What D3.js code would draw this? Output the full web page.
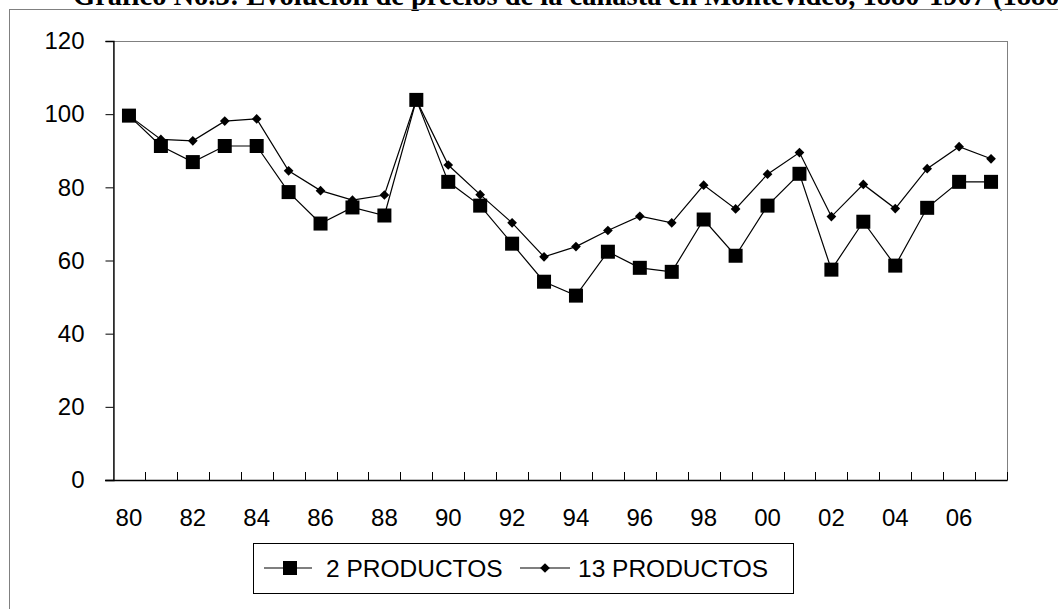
<!DOCTYPE html>
<html>
<head>
<meta charset="utf-8">
<script src="https://cdn.jsdelivr.net/npm/d3@7"></script>
<style>
  html, body { margin: 0; padding: 0; background: #fff; }
  svg { display: block; }
</style>
</head>
<body>
<script>
// Years of the price index series
const years = [1880, 1881, 1882, 1883, 1884, 1885, 1886, 1887, 1888, 1889,
               1890, 1891, 1892, 1893, 1894, 1895, 1896, 1897, 1898, 1899,
               1900, 1901, 1902, 1903, 1904, 1905, 1906, 1907];

// Basket of 2 products
const dosProductos = [99.6, 91.3, 86.9, 91.3, 91.3, 78.7, 70.1, 74.5, 72.3, 103.9,
                      81.5, 75.0, 64.6, 54.2, 50.4, 62.4, 58.0, 56.9, 71.2, 61.3,
                      75.0, 83.7, 57.5, 70.6, 58.6, 74.4, 81.5, 81.5];

// Basket of 13 products
const treceProductos = [99.6, 93.1, 92.7, 98.1, 98.7, 84.5, 79.1, 76.5, 77.9, 103.9,
                        86.1, 78.0, 70.3, 61.0, 63.8, 68.2, 72.1, 70.3, 80.6, 74.1,
                        83.6, 89.5, 72.0, 80.8, 74.2, 85.1, 91.1, 87.8];

// Labelled years on the category axis and their two-digit labels
const labelYears = [1880, 1882, 1884, 1886, 1888, 1890, 1892, 1894, 1896, 1898,
                    1900, 1902, 1904, 1906];
const labelText = ["80", "82", "84", "86", "88", "90", "92", "94", "96", "98",
                   "00", "02", "04", "06"];

const yTicks = [0, 20, 40, 60, 80, 100, 120];

const seriesNames = ["2 PRODUCTOS", "13 PRODUCTOS"];

const titleText = "Gráfico No.3: Evolución de precios de la canasta en Montevideo, 1880-1907 (1880=100)";

const W = 1058, H = 609;
const plot = { left: 113, right: 1007, top: 41, bottom: 480 };
const axisFont = "'Liberation Sans', Arial, sans-serif";

const svg = d3.select("body").append("svg")
  .attr("width", W).attr("height", H);

// Title (runs off the top edge)
svg.append("text")
  .attr("x", 73).attr("y", 5)
  .attr("font-family", "'Liberation Serif', 'Times New Roman', serif")
  .attr("font-weight", "bold")
  .attr("font-size", 28.5)
  .attr("fill", "#000")
  .text(titleText);

// Outer chart frame
svg.append("rect")
  .attr("x", 9.5).attr("y", 9.5)
  .attr("width", W + 20).attr("height", H + 20)
  .attr("fill", "none").attr("stroke", "#808080").attr("stroke-width", 1);

// Scales
const x = d3.scaleBand().domain(years).range([plot.left, plot.right]).padding(0);
const y = d3.scaleLinear().domain([0, 120]).range([plot.bottom, plot.top]);
const cx = d => x(d) + x.bandwidth() / 2;

// Plot-area border (top and right show in grey)
svg.append("rect")
  .attr("x", plot.left + 0.5).attr("y", plot.top + 0.5)
  .attr("width", plot.right - plot.left).attr("height", plot.bottom - plot.top)
  .attr("fill", "none").attr("stroke", "#808080").attr("stroke-width", 1);

// Y axis
const yAxis = d3.axisLeft(y).tickValues(yTicks).tickSize(8).tickPadding(21)
  .tickFormat(d3.format("d"));
const gy = svg.append("g")
  .attr("transform", `translate(${plot.left + 0.5},0)`)
  .call(yAxis);
gy.select(".domain").attr("stroke", "#000").attr("stroke-width", 1.3);
gy.selectAll(".tick line").attr("stroke", "#000");
gy.selectAll(".tick text")
  .attr("font-family", axisFont).attr("font-size", 24).attr("fill", "#000");

// X axis: ticks sit on category boundaries and point into the plot
const boundaries = years.map(d => x(d)).concat([plot.right]);
const gx = svg.append("g").attr("class", "x-axis");
gx.append("line")
  .attr("x1", plot.left - 8).attr("x2", plot.right + 0.5)
  .attr("y1", plot.bottom + 0.5).attr("y2", plot.bottom + 0.5)
  .attr("stroke", "#000").attr("stroke-width", 1.3);
gx.selectAll("line.tk").data(boundaries.slice(1))
  .join("line").attr("class", "tk")
  .attr("x1", d => Math.round(d) + 0.5).attr("x2", d => Math.round(d) + 0.5)
  .attr("y1", plot.bottom - 8).attr("y2", plot.bottom)
  .attr("stroke", "#000").attr("stroke-width", 1);
gx.selectAll("text").data(labelYears)
  .join("text")
  .attr("x", d => cx(d))
  .attr("y", 526)
  .attr("text-anchor", "middle")
  .attr("font-family", axisFont).attr("font-size", 24).attr("fill", "#000")
  .text((d, i) => labelText[i]);

// Series lines
const line = d3.line().x((d, i) => cx(years[i])).y(d => y(d));
const squareSize = 14;
const diamond = d3.symbol().type(d3.symbolDiamond2).size(60);

svg.append("path").datum(dosProductos)
  .attr("d", line).attr("fill", "none").attr("stroke", "#000").attr("stroke-width", 1.2);
svg.append("path").datum(treceProductos)
  .attr("d", line).attr("fill", "none").attr("stroke", "#000").attr("stroke-width", 1.2);

svg.append("g").selectAll("rect").data(dosProductos)
  .join("rect")
  .attr("x", (d, i) => cx(years[i]) - squareSize / 2)
  .attr("y", d => y(d) - squareSize / 2)
  .attr("width", squareSize).attr("height", squareSize)
  .attr("fill", "#000");

svg.append("g").selectAll("path").data(treceProductos)
  .join("path")
  .attr("transform", (d, i) => `translate(${cx(years[i])},${y(d)})`)
  .attr("d", diamond)
  .attr("fill", "#000");

// Legend
const lg = svg.append("g").attr("class", "legend");
lg.append("rect")
  .attr("x", 253.5).attr("y", 543.5).attr("width", 540).attr("height", 50)
  .attr("fill", "#fff").attr("stroke", "#000").attr("stroke-width", 1);

const legendY = 568;
// 2 PRODUCTOS entry
lg.append("line").attr("x1", 264).attr("x2", 312).attr("y1", legendY).attr("y2", legendY)
  .attr("stroke", "#000").attr("stroke-width", 1.2);
lg.append("rect").attr("x", 290 - squareSize / 2).attr("y", legendY - squareSize / 2)
  .attr("width", squareSize).attr("height", squareSize).attr("fill", "#000");
lg.append("text").attr("x", 326).attr("y", legendY).attr("dy", "0.35em")
  .attr("font-family", axisFont).attr("font-size", 24.5).attr("fill", "#000")
  .text(seriesNames[0]);
// 13 PRODUCTOS entry
lg.append("line").attr("x1", 520).attr("x2", 570).attr("y1", legendY).attr("y2", legendY)
  .attr("stroke", "#000").attr("stroke-width", 1.2);
lg.append("path").attr("transform", `translate(545,${legendY})`)
  .attr("d", diamond).attr("fill", "#000");
lg.append("text").attr("x", 578).attr("y", legendY).attr("dy", "0.35em")
  .attr("font-family", axisFont).attr("font-size", 24.5).attr("fill", "#000")
  .text(seriesNames[1]);
</script>
</body>
</html>
